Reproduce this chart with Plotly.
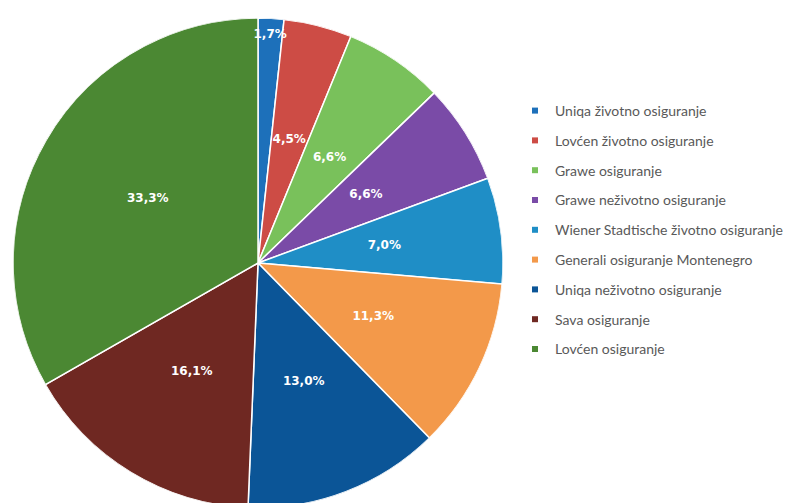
import plotly.graph_objects as go

labels = [
    "Uniqa životno osiguranje",
    "Lovćen životno osiguranje",
    "Grawe osiguranje",
    "Grawe neživotno osiguranje",
    "Wiener Stadtische životno osiguranje",
    "Generali osiguranje Montenegro",
    "Uniqa neživotno osiguranje",
    "Sava osiguranje",
    "Lovćen osiguranje",
]
values = [1.7, 4.5, 6.6, 6.6, 7.0, 11.3, 13.0, 16.1, 33.3]
colors = ["#1d70ba", "#cd4c45", "#79c15b", "#7a4ba7", "#1f8ec6",
          "#f3994a", "#0b5597", "#6f2822", "#4b8833"]

W, H = 797, 503
# pie geometry in page pixels (page has an 8px body margin)
CX, CY, R = 250, 255, 245
domain = dict(x=[(CX - R) / W, (CX + R) / W],
              y=[(H - CY - R) / H, (H - CY + R) / H])

# slice angles derived from the data (clockwise from 12 o'clock)
total = sum(values)
widths = [360.0 * v / total for v in values]
mid_theta = []
acc = 0.0
for w in widths:
    mid_theta.append(acc + w / 2)
    acc += w
label_r = [0.93 if v / total < 0.03 else 0.52 for v in values]
label_text = [f"{v:.1f}".replace(".", ",") + "%" for v in values]

fig = go.Figure()
# pie slices drawn as full-radius wedges on a polar axis
fig.add_trace(go.Barpolar(
    r=[1] * len(values), theta=mid_theta, width=widths, base=0,
    marker=dict(color=colors, line=dict(color="white", width=1.5)),
    customdata=label_text, text=labels,
    hovertemplate="%{text}: %{customdata}<extra></extra>",
    showlegend=False,
))
fig.add_trace(go.Scatterpolar(
    r=label_r, theta=mid_theta, mode="text", text=label_text,
    textfont=dict(family="DejaVu Sans", size=12, color="white", weight="bold"),
    showlegend=False, hoverinfo="skip",
))
for i, (lab, col) in enumerate(zip(labels, colors)):
    fig.add_trace(go.Scatter(
        x=[None], y=[None], mode="markers", name=lab, legendgroup=f"g{i}",
        marker=dict(symbol="square", size=6, color=col),
    ))
fig.update_layout(
    width=W, height=H, margin=dict(l=0, r=0, t=0, b=0),
    paper_bgcolor="white", plot_bgcolor="white",
    polar=dict(
        domain=domain, bgcolor="rgba(0,0,0,0)", bargap=0,
        radialaxis=dict(range=[0, 1], visible=False, showgrid=False),
        angularaxis=dict(direction="clockwise", rotation=90, visible=False,
                         showgrid=False),
    ),
    xaxis=dict(visible=False, domain=[0.99, 1]), yaxis=dict(visible=False),
    legend=dict(x=507 / W, xanchor="left", y=1 - 87 / H, yanchor="top",
                font=dict(family="Lato", size=14, color="#595959"),
                traceorder="grouped", tracegroupgap=8.6, itemsizing="trace",
                bgcolor="rgba(0,0,0,0)"),
)
fig.write_html("out.html")
